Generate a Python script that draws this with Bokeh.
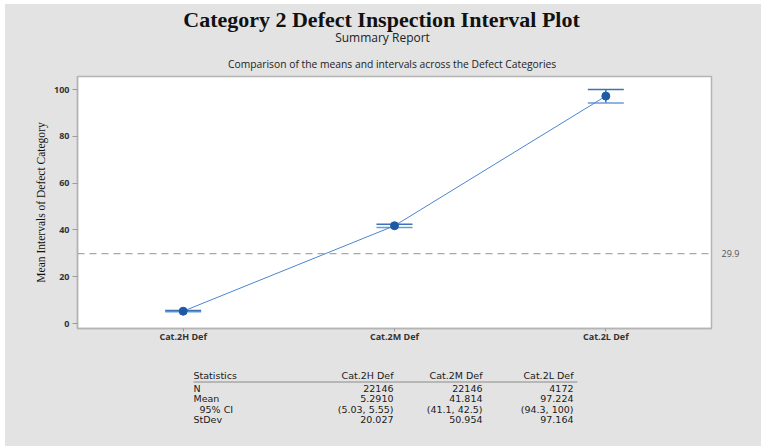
from bokeh.plotting import figure
from bokeh.models import (ColumnDataSource, FactorRange, Range1d, Whisker, TeeHead,
                          Span, LinearAxis, FixedTicker)
from bokeh.layouts import column
from bokeh.core.properties import value
from bokeh.embed import file_html
from bokeh.resources import INLINE

# ---- data ----
categories = ["Cat.2H Def", "Cat.2M Def", "Cat.2L Def"]
means = [5.2910, 41.814, 97.224]
ci_low = [5.03, 41.1, 94.3]
ci_high = [5.55, 42.5, 100.0]
n_obs = [22146, 22146, 4172]
stdev = [20.027, 50.954, 97.164]
mean_txt = ["5.2910", "41.814", "97.224"]
ci_txt = ["(5.03, 5.55)", "(41.1, 42.5)", "(94.3, 100)"]
stdev_txt = ["20.027", "50.954", "97.164"]
stat_names = ["N", "Mean", "95% CI", "StDev"]
ref_value = 29.9
y_ticks = [0, 20, 40, 60, 80, 100]

BG = "#e3e3e3"
W = 756
BL, BR = 72, 50          # common left/right borders so the frames align
FX0, FX1 = 77, 711       # frame extent in page pixels
SANS = "Open Sans"


def blank(height, y0, y1):
    f = figure(width=W, height=height, x_range=Range1d(FX0, FX1),
               y_range=Range1d(y1, y0), x_axis_location=None,
               y_axis_location=None, toolbar_location=None,
               output_backend="svg", min_border_left=BL, min_border_right=BR,
               min_border_top=0, min_border_bottom=0, outline_line_color=None,
               border_fill_color=BG, background_fill_color=BG)
    f.grid.visible = False
    return f


# ---- header (page y 4..72) ----
hdr = blank(68, 4, 72)
hdr.text(x=[381], y=[19], text=["Category 2 Defect Inspection Interval Plot"],
         text_font=value("Liberation Serif"), text_font_style="bold",
         text_font_size="22px", text_align="center", text_baseline="middle",
         text_color="#111111")
hdr.text(x=[382], y=[36.5], text=["Summary Report"], text_font=value(SANS),
         text_font_size="12px", text_align="center", text_baseline="middle",
         text_color="#222222")
hdr.text(x=[393], y=[63], text=["Comparison of  the means and intervals across the Defect Categories"],
         text_font=value(SANS), text_font_size="10.3px", text_align="center",
         text_baseline="middle", text_color="#222222")

# ---- main interval plot (page y 72..368) ----
src = ColumnDataSource(dict(cat=categories, mean=means, lo=ci_low, hi=ci_high))
p = figure(width=W, height=296, x_range=FactorRange(*categories),
           y_range=Range1d(-2.1, 105.6), toolbar_location=None,
           output_backend="svg", min_border_left=BL, min_border_right=BR,
           min_border_top=4, min_border_bottom=40,
           border_fill_color=BG, background_fill_color="white",
           outline_line_color="#b4b4b4", outline_line_width=1.5)
p.grid.visible = False

span = Span(location=ref_value, dimension="width", line_color="#a8a8a8",
            line_dash="7 5", line_width=1.2)
p.add_layout(span)

p.line(x="cat", y="mean", source=src, line_color="#4a86cf", line_width=1)
wh = Whisker(base="cat", upper="hi", lower="lo", source=src,
             line_color="#3b73b9", line_width=1.5,
             upper_head=TeeHead(size=36, line_color="#3b73b9", line_width=1.5),
             lower_head=TeeHead(size=36, line_color="#6d9ad3", line_width=1.5))
p.add_layout(wh)
p.scatter(x="cat", y="mean", source=src, size=8, fill_color="#1f5aa6",
          line_color="#1f5aa6")

p.yaxis.ticker = FixedTicker(ticks=y_ticks)
p.yaxis.axis_label = "Mean Intervals of Defect Category"
p.yaxis.axis_label_text_font = "Liberation Serif"
p.yaxis.axis_label_text_font_style = "normal"
p.yaxis.axis_label_text_font_size = "11.5px"
p.yaxis.axis_label_standoff = 4
p.yaxis.axis_label_text_color = "#111111"
for ax in (p.xaxis[0], p.yaxis[0]):
    ax.axis_line_color = "#b4b4b4"
    ax.axis_line_width = 1.5
    ax.major_tick_line_color = "#9a9a9a"
    ax.major_tick_in = 0
    ax.major_tick_out = 5
    ax.minor_tick_in = 0
    ax.minor_tick_out = 0
    ax.major_label_text_font = SANS
    ax.major_label_text_font_size = "9px"
    ax.major_label_text_font_style = "bold"
    ax.major_label_text_color = "#333333"
p.yaxis.major_label_standoff = 3
p.xaxis.major_tick_out = 3
p.xaxis.major_label_standoff = -2

rax = LinearAxis(ticker=FixedTicker(ticks=[ref_value]), axis_line_color=None,
                 major_tick_line_color=None, minor_tick_line_color=None,
                 major_label_text_font=SANS, major_label_text_font_size="9px",
                 major_label_text_color="#555555", major_label_standoff=4)
p.add_layout(rax, "right")

# ---- statistics table (page y 368..446) ----
tbl = blank(78, 368, 446)
col_right = [393, 482, 573]
row_y = [388, 398, 408.5, 418.5]
tkw = dict(text_font=value("DejaVu Sans"), text_font_size="9.5px",
           text_baseline="middle", text_color="#1a1a1a")
tbl.text(x=[193], y=[375], text=["Statistics"], text_align="left", **tkw)
tbl.text(x=col_right, y=[375] * 3, text=categories, text_align="right", **tkw)
tbl.segment(x0=[193], y0=[381.5], x1=[577], y1=[381.5], line_color="#8a8a8a",
            line_width=1)
tbl.text(x=[193, 193, 199, 193], y=row_y, text=stat_names,
         text_align="left", **tkw)
rows = [[str(v) for v in n_obs], mean_txt, ci_txt, stdev_txt]
for ry, vals in zip(row_y, rows):
    tbl.text(x=col_right, y=[ry] * 3, text=vals, text_align="right", **tkw)

layout = column(hdr, p, tbl, spacing=0, margin=(4, 0, 0, 5),
                styles={"background-color": BG})
open("out.html", "w").write(file_html(layout, INLINE))
